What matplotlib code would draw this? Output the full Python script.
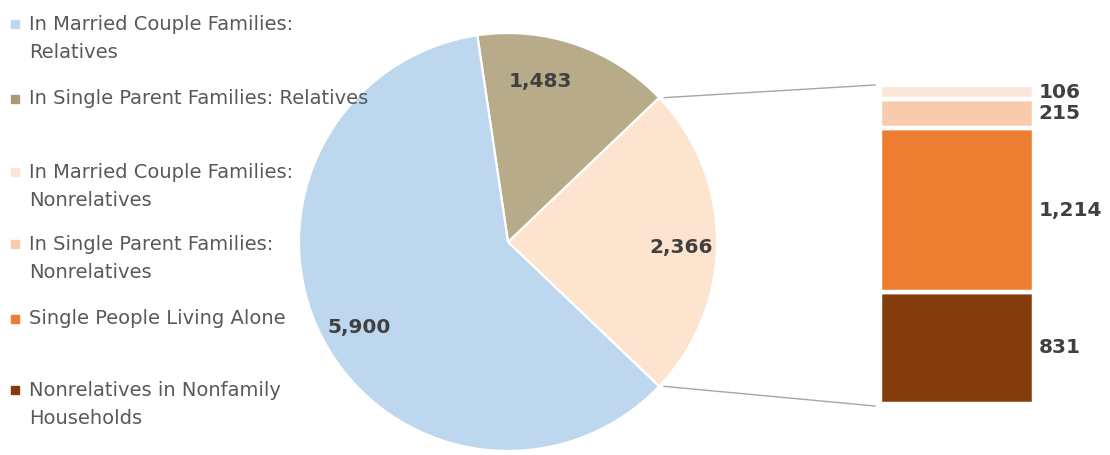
import numpy as np
import matplotlib
matplotlib.use("Agg")
import matplotlib.pyplot as plt

# pie values (the last slice is the sum of the bar segments)
pie_labels = ["In Married Couple Families: Relatives",
              "In Single Parent Families: Relatives",
              "Other"]
pie_values = [5900, 1483, 2366]
pie_colors = ["#BDD7EE", "#B8AB8A", "#FCE4CF"]

# bar-of-pie breakdown, bottom to top
bar_names = ["Nonrelatives in Nonfamily Households",
             "Single People Living Alone",
             "In Single Parent Families: Nonrelatives",
             "In Married Couple Families: Nonrelatives"]
bar_values = [831, 1214, 215, 106]
bar_colors = ["#843C0C", "#ED7D31", "#F8CBAD", "#FBE5D6"]

legend_text = [["In Married Couple Families:", "Relatives"],
               ["In Single Parent Families: Relatives"],
               ["In Married Couple Families:", "Nonrelatives"],
               ["In Single Parent Families:", "Nonrelatives"],
               ["Single People Living Alone"],
               ["Nonrelatives in Nonfamily", "Households"]]
legend_colors = ["#BDD7EE", "#A89B78", "#FBE5D6", "#F8CBAD", "#ED7D31", "#843C0C"]

W, H = 1110, 455
fig = plt.figure(figsize=(W / 100, H / 100), dpi=100)
ax = fig.add_axes([0, 0, 1, 1])

num_font = dict(fontsize=14.5, fontweight="bold", color="#404040", family="DejaVu Sans")

# pie in pixel coordinates (y up)
cx, cy, R = 508, H - 242, 209
start = -pie_values[2] / sum(pie_values) * 360 / 2
wedges, _ = ax.pie(pie_values[::-1], colors=pie_colors[::-1], startangle=start,
                   center=(cx, cy), radius=R, counterclock=True,
                   wedgeprops=dict(edgecolor="white", linewidth=1.6))
wedges = wedges[::-1]

label_angle_shift = [2.5, 7.7, -1.8]
label_r = [0.82, 0.785, 0.83]
for w, v, sh, lr in zip(wedges, pie_values, label_angle_shift, label_r):
    mid = np.deg2rad((w.theta1 + w.theta2) / 2 + sh)
    ax.text(cx + lr * R * np.cos(mid), cy + lr * R * np.sin(mid), f"{v:,}",
            ha="center", va="center", **num_font)

# stacked bar
bx0, bx1 = 880, 1034
by0, by1 = H - 404, H - 85
bar_ax = fig.add_axes([bx0 / W, by0 / H, (bx1 - bx0) / W, (by1 - by0) / H])
bottoms = np.concatenate([[0], np.cumsum(bar_values)[:-1]])
bar_ax.bar([0] * len(bar_values), bar_values, bottom=bottoms, width=1.0,
           color=bar_colors, edgecolor="white", linewidth=3.2)
bar_ax.set_xlim(-0.5, 0.5)
bar_ax.set_ylim(0, sum(bar_values))
bar_ax.axis("off")
for b, v in zip(bottoms, bar_values):
    bar_ax.text(1.03, (b + v / 2) / sum(bar_values), f"{v:,}",
                transform=bar_ax.transAxes, ha="left", va="center", **num_font)

# connector lines from the "other" wedge to the bar
ow = wedges[2]
for th, yy in [(ow.theta2, by1), (ow.theta1, by0 - 2)]:
    t = np.deg2rad(th)
    ax.plot([cx + R * np.cos(t) + 5, bx0 - 5], [cy + R * np.sin(t), yy],
            color="#A6A6A6", lw=1.0)

# legend
leg_y = [24, 99, 172, 244, 319, 390]
for lines, c, y in zip(legend_text, legend_colors, leg_y):
    ax.plot([15], [H - y], marker="s", markersize=5.5, color=c, mec=c)
    for k, line in enumerate(lines):
        ax.text(29, H - y - 28 * k, line, ha="left", va="center", fontsize=14,
                color="#595959", family="DejaVu Sans")

ax.set_xlim(0, W)
ax.set_ylim(0, H)
ax.set_aspect("auto")
ax.axis("off")

fig.savefig("out.png", dpi=100)
